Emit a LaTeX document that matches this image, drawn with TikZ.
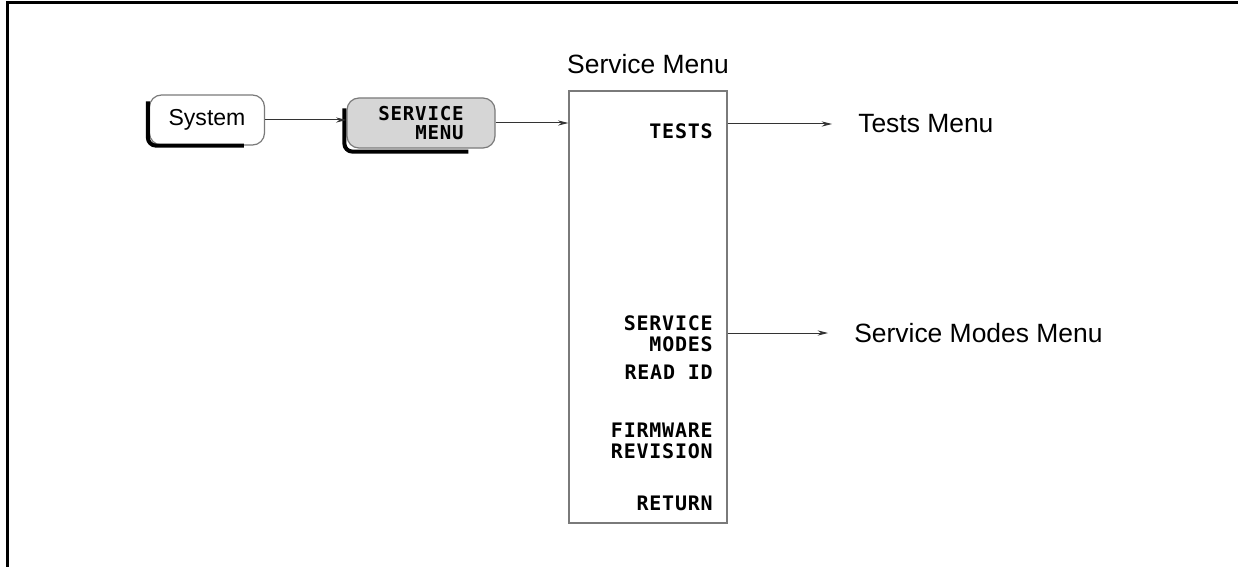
\documentclass[tikz,border=0pt]{standalone}
\usepackage{fontspec}
\setmainfont{Liberation Sans}
\newfontfamily\keyfont[LetterSpace=4]{DejaVu Sans Mono}
\usepackage{tikz}
\usetikzlibrary{arrows.meta,positioning,calc}
\definecolor{ink}{HTML}{000000}
\definecolor{rulegrey}{HTML}{7A7A7A}
\definecolor{keygrey}{HTML}{D6D6D6}

\begin{document}
\begin{tikzpicture}[
  x=0.25mm, y=-0.25mm,
  font=\fontsize{18.8}{22}\selectfont,
  key/.style={draw=rulegrey, fill=white, rounded corners=3mm, line width=0.3mm,
              minimum height=12.5mm, inner sep=0pt, align=right},
  keyedge/.style={draw=ink, line width=1mm, rounded corners=2mm},
  menubox/.style={draw=rulegrey, line width=0.3mm, minimum width=39.5mm, minimum height=108mm},
  softkey/.style={font=\keyfont\bfseries\fontsize{14.2}{14.8}\selectfont,
                  align=right, anchor=east, inner sep=0pt},
  target/.style={anchor=west, inner sep=0pt},
  arr/.style={-{Stealth[length=2.6mm, width=1.3mm]}, draw=ink!80, line width=0.25mm},
  frame/.style={draw=ink, line width=0.75mm}
]

\useasboundingbox (0,0) rectangle (1238,567);
\draw[frame] (7,567) -- (7,3) -- (1238,3);

% front panel keys
\node[key, minimum width=28.75mm, font=\fontsize{16.4}{18}\selectfont] (sys) at (207,120) {System};
\node[key, fill=keygrey, minimum width=37mm,
      font=\keyfont\bfseries\fontsize{13.6}{13.6}\selectfont] (svc) at (421,123) {SERVICE\\MENU};
\draw[keyedge] ($(sys.north west)+(-1,7)$) |- ($(sys.south west)+(95,0)$);
\draw[keyedge] ($(svc.north west)+(-2,11)$) |- ($(svc.south west)+(122,3)$);

% softkey menu
\node[menubox] (menu) at (648,307) {};
\node[inner sep=0pt] (ttl) at (648,64) {Service Menu};

\node[softkey] (tst) at (713,131) {TESTS};
\node[softkey] (smd) at (713,334) {SERVICE\\MODES};
\node[softkey] (rid) at (713,372) {READ ID};
\node[softkey] (fwr) at (713,441) {FIRMWARE\\REVISION};
\node[softkey] (ret) at (713,503) {RETURN};

\node[target] (tm)  at (858,124) {Tests Menu};
\node[target] (smm) at (854,333) {Service Modes Menu};

\draw[arr] (sys.east) -- (sys.east -| svc.west);
\draw[arr] (svc.east) -- (svc.east -| menu.west);
\foreach \b in {tm, smm}
  \draw[arr, shorten >=6.5mm] (\b.west -| menu.east) -- (\b.west);

\end{tikzpicture}
\end{document}
